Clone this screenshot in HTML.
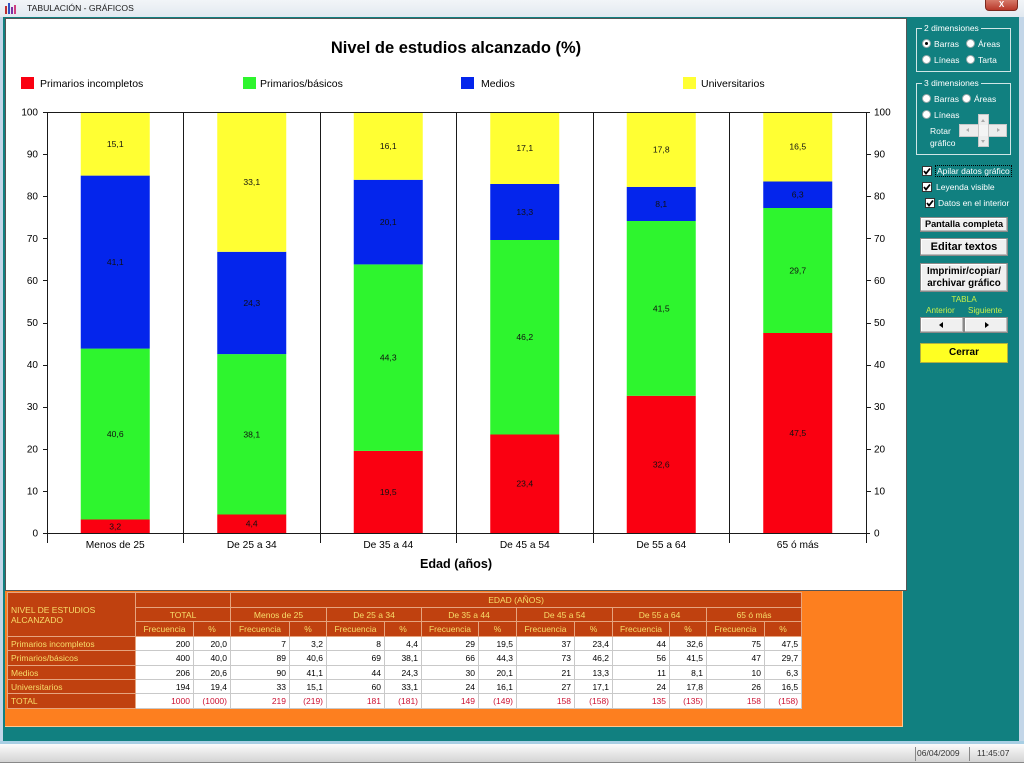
<!DOCTYPE html>
<html><head><meta charset="utf-8">
<style>
*{margin:0;padding:0;box-sizing:border-box}
body{width:1024px;height:768px;position:relative;overflow:hidden;background:#fff;font-family:"Liberation Sans",Arial,sans-serif}
.a{position:absolute}
.w{color:#fff;font-size:8.5px;line-height:10px;white-space:nowrap}
.rb{position:absolute;width:9px;height:9px;border-radius:50%;background:#fff;border:1px solid #9aa}
.rb.on::after{content:"";position:absolute;left:2px;top:2px;width:3px;height:3px;border-radius:50%;background:#000}
.cb{position:absolute;width:10px;height:10px;background:#fff;border:1px solid #333}
.btn{position:absolute;background:#f0f0f0;border:1px solid #8a8a8a;box-shadow:inset -1px -1px 0 #bbb,inset 1px 1px 0 #fff;color:#000;font-weight:bold;text-align:center;white-space:nowrap}
.grp{position:absolute;border:1px solid #cfe6e6}
.gl{position:absolute;background:#118080;padding:0 2px}
.tb{position:absolute;border-collapse:collapse;table-layout:fixed;font-size:8.5px;border:1px solid #7a5a4a}
.tb td{border:1px solid #c9c9c9;padding:0 3px;white-space:nowrap;overflow:hidden;line-height:10px;text-align:right;background:#fff;color:#000}
.tb td.h{background:#c0410f;color:#f8de6a;text-align:center;border-color:#e6a47e}
.tb td.l{background:#c0410f;color:#f8de6a;text-align:left;border-color:#e6a47e}
.tb td.r{color:#cc1133}
</style></head><body>

<!-- window frame -->
<div class="a" style="left:0;top:0;width:1024px;height:744px;background:#c3d6e8"></div>
<div class="a" style="left:0;top:0;width:1024px;height:17px;background:linear-gradient(#f2f5f8,#e2e9f0)"></div>
<div class="a" style="left:5px;top:3px;width:12px;height:11px">
  <div class="a" style="left:0;top:3px;width:2px;height:8px;background:#c03030"></div>
  <div class="a" style="left:3px;top:0;width:2px;height:11px;background:#3050c0"></div>
  <div class="a" style="left:6px;top:4px;width:2px;height:7px;background:#8030a0"></div>
  <div class="a" style="left:9px;top:2px;width:2px;height:9px;background:#d04080"></div>
</div>
<div class="a" style="left:27px;top:3px;font-size:8.6px;color:#1a1a1a;white-space:nowrap">TABULACIÓN - GRÁFICOS</div>
<div class="a" style="left:985px;top:0;width:33px;height:11px;background:linear-gradient(#d67a6a,#b8382a);border:1px solid #7a2a20;border-top:none;border-radius:0 0 4px 4px;color:#fff;font-size:8px;font-weight:bold;text-align:center;line-height:10px">X</div>

<!-- teal client -->
<div class="a" style="left:3px;top:17px;width:1016px;height:724px;background:#118080"></div>
<div class="a" style="left:0;top:741px;width:1024px;height:3px;background:#a8cfe4"></div>

<!-- chart white panel -->
<div class="a" style="left:5px;top:18px;width:902px;height:573px;background:#fff;border:1px solid #555"></div>
<!-- orange panel -->
<div class="a" style="left:5px;top:591px;width:898px;height:136px;background:#fd7f1f;border-right:1px solid #ffc890;border-bottom:1px solid #ffc890"></div>

<!-- status bar -->
<div class="a" style="left:0;top:744px;width:1024px;height:19px;background:linear-gradient(#fbfbfb,#d4d4d4);border-bottom:1px solid #888"></div>
<div class="a" style="left:915px;top:747px;width:1px;height:14px;background:#888"></div>
<div class="a" style="left:969px;top:747px;width:1px;height:14px;background:#888"></div>
<div class="a" style="left:917px;top:748px;font-size:8.5px;color:#333">06/04/2009</div>
<div class="a" style="left:977px;top:748px;font-size:8.5px;color:#333">11:45:07</div>

<!-- chart -->
<svg class="a" style="left:0;top:0" width="1024" height="768" xmlns="http://www.w3.org/2000/svg" font-family="Liberation Sans, Arial, sans-serif">
  <text x="456" y="53" font-size="16.5" font-weight="bold" text-anchor="middle" fill="#000">Nivel de estudios alcanzado (%)</text>
  <rect x="21" y="77" width="13" height="12" fill="#fa0011"/>
  <text x="40" y="87" font-size="10.5" fill="#000">Primarios incompletos</text>
  <rect x="243" y="77" width="13" height="12" fill="#2ef52e"/>
  <text x="260" y="87" font-size="10.5" fill="#000">Primarios/básicos</text>
  <rect x="461" y="77" width="13" height="12" fill="#0425ec"/>
  <text x="481" y="87" font-size="10.5" fill="#000">Medios</text>
  <rect x="683" y="77" width="13" height="12" fill="#ffff33"/>
  <text x="701" y="87" font-size="10.5" fill="#000">Universitarios</text>

  <!-- bars -->
  <g>
    <rect x="80.75" y="519.5" width="69" height="13.5" fill="#fa0011"/>
    <rect x="80.75" y="348.6" width="69" height="170.9" fill="#2ef52e"/>
    <rect x="80.75" y="175.6" width="69" height="173" fill="#0425ec"/>
    <rect x="80.75" y="112" width="69" height="63.6" fill="#ffff33"/>

    <rect x="217.25" y="514.5" width="69" height="18.5" fill="#fa0011"/>
    <rect x="217.25" y="354.1" width="69" height="160.4" fill="#2ef52e"/>
    <rect x="217.25" y="251.8" width="69" height="102.3" fill="#0425ec"/>
    <rect x="217.25" y="112" width="69" height="139.8" fill="#ffff33"/>

    <rect x="353.75" y="450.9" width="69" height="82.1" fill="#fa0011"/>
    <rect x="353.75" y="264.4" width="69" height="186.5" fill="#2ef52e"/>
    <rect x="353.75" y="179.8" width="69" height="84.6" fill="#0425ec"/>
    <rect x="353.75" y="112" width="69" height="67.8" fill="#ffff33"/>

    <rect x="490.25" y="434.5" width="69" height="98.5" fill="#fa0011"/>
    <rect x="490.25" y="240" width="69" height="194.5" fill="#2ef52e"/>
    <rect x="490.25" y="184" width="69" height="56" fill="#0425ec"/>
    <rect x="490.25" y="112" width="69" height="72" fill="#ffff33"/>

    <rect x="626.75" y="395.8" width="69" height="137.2" fill="#fa0011"/>
    <rect x="626.75" y="221" width="69" height="174.8" fill="#2ef52e"/>
    <rect x="626.75" y="186.9" width="69" height="34.1" fill="#0425ec"/>
    <rect x="626.75" y="112" width="69" height="74.9" fill="#ffff33"/>

    <rect x="763.25" y="333" width="69" height="200" fill="#fa0011"/>
    <rect x="763.25" y="208" width="69" height="125" fill="#2ef52e"/>
    <rect x="763.25" y="181.5" width="69" height="26.5" fill="#0425ec"/>
    <rect x="763.25" y="112" width="69" height="69.5" fill="#ffff33"/>
  </g>

  <!-- bar labels -->
  <g font-size="8.6" fill="#111" text-anchor="middle">
    <text x="115.25" y="529.3">3,2</text>
    <text x="115.25" y="437.1">40,6</text>
    <text x="115.25" y="265.1">41,1</text>
    <text x="115.25" y="146.8">15,1</text>

    <text x="251.75" y="526.7">4,4</text>
    <text x="251.75" y="437.3">38,1</text>
    <text x="251.75" y="305.9">24,3</text>
    <text x="251.75" y="184.9">33,1</text>

    <text x="388.25" y="495">19,5</text>
    <text x="388.25" y="360.6">44,3</text>
    <text x="388.25" y="225.1">20,1</text>
    <text x="388.25" y="148.9">16,1</text>

    <text x="524.75" y="486.7">23,4</text>
    <text x="524.75" y="340.2">46,2</text>
    <text x="524.75" y="215">13,3</text>
    <text x="524.75" y="151">17,1</text>

    <text x="661.25" y="467.4">32,6</text>
    <text x="661.25" y="311.4">41,5</text>
    <text x="661.25" y="207">8,1</text>
    <text x="661.25" y="152.5">17,8</text>

    <text x="797.75" y="436">47,5</text>
    <text x="797.75" y="273.5">29,7</text>
    <text x="797.75" y="197.7">6,3</text>
    <text x="797.75" y="149.7">16,5</text>
  </g>

  <!-- axes & grid -->
  <g stroke="#1a1a1a" stroke-width="1" fill="none" shape-rendering="crispEdges">
    <line x1="43" y1="112.5" x2="870" y2="112.5"/>
    <line x1="43" y1="533.5" x2="870" y2="533.5"/>
    <line x1="47.5" y1="112" x2="47.5" y2="543"/>
    <line x1="183.5" y1="112" x2="183.5" y2="543"/>
    <line x1="320.5" y1="112" x2="320.5" y2="543"/>
    <line x1="456.5" y1="112" x2="456.5" y2="543"/>
    <line x1="593.5" y1="112" x2="593.5" y2="543"/>
    <line x1="729.5" y1="112" x2="729.5" y2="543"/>
    <line x1="866.5" y1="112" x2="866.5" y2="543"/>
    <path d="M43 491.5H47M43 449.5H47M43 407.5H47M43 365.5H47M43 323.5H47M43 280.5H47M43 238.5H47M43 196.5H47M43 154.5H47"/>
    <path d="M866 491.5H871M866 449.5H871M866 407.5H871M866 365.5H871M866 323.5H871M866 280.5H871M866 238.5H871M866 196.5H871M866 154.5H871"/>
  </g>
  <g font-size="10" fill="#000" text-anchor="end">
    <text x="38" y="536.5">0</text>
    <text x="38" y="494.4">10</text>
    <text x="38" y="452.3">20</text>
    <text x="38" y="410.2">30</text>
    <text x="38" y="368.1">40</text>
    <text x="38" y="326">50</text>
    <text x="38" y="283.9">60</text>
    <text x="38" y="241.8">70</text>
    <text x="38" y="199.7">80</text>
    <text x="38" y="157.6">90</text>
    <text x="38" y="115.5">100</text>
  </g>
  <g font-size="10" fill="#000">
    <text x="874" y="536.5">0</text>
    <text x="874" y="494.4">10</text>
    <text x="874" y="452.3">20</text>
    <text x="874" y="410.2">30</text>
    <text x="874" y="368.1">40</text>
    <text x="874" y="326">50</text>
    <text x="874" y="283.9">60</text>
    <text x="874" y="241.8">70</text>
    <text x="874" y="199.7">80</text>
    <text x="874" y="157.6">90</text>
    <text x="874" y="115.5">100</text>
  </g>
  <g font-size="10.2" fill="#000" text-anchor="middle">
    <text x="115.25" y="548">Menos de 25</text>
    <text x="251.75" y="548">De 25 a 34</text>
    <text x="388.25" y="548">De 35 a 44</text>
    <text x="524.75" y="548">De 45 a 54</text>
    <text x="661.25" y="548">De 55 a 64</text>
    <text x="797.75" y="548">65 ó más</text>
  </g>
  <text x="456" y="568" font-size="12.6" font-weight="bold" text-anchor="middle" fill="#000">Edad (años)</text>
</svg>

<!-- table -->
<table class="tb" style="left:7px;top:592px;width:794px">
<colgroup>
<col style="width:128px"><col style="width:58px"><col style="width:37px"><col style="width:59px"><col style="width:37px"><col style="width:58px"><col style="width:37px"><col style="width:57px"><col style="width:38px"><col style="width:58px"><col style="width:38px"><col style="width:57px"><col style="width:37px"><col style="width:58px"><col style="width:37px">
</colgroup>
<tr style="height:15px"><td class="l" rowspan="3" style="vertical-align:middle">NIVEL DE ESTUDIOS<br>ALCANZADO</td><td class="h" colspan="2"></td><td class="h" colspan="12">EDAD (AÑOS)</td></tr>
<tr style="height:14px"><td class="h" colspan="2">TOTAL</td><td class="h" colspan="2">Menos de 25</td><td class="h" colspan="2">De 25 a 34</td><td class="h" colspan="2">De 35 a 44</td><td class="h" colspan="2">De 45 a 54</td><td class="h" colspan="2">De 55 a 64</td><td class="h" colspan="2">65 ó más</td></tr>
<tr style="height:15px"><td class="h">Frecuencia</td><td class="h">%</td><td class="h">Frecuencia</td><td class="h">%</td><td class="h">Frecuencia</td><td class="h">%</td><td class="h">Frecuencia</td><td class="h">%</td><td class="h">Frecuencia</td><td class="h">%</td><td class="h">Frecuencia</td><td class="h">%</td><td class="h">Frecuencia</td><td class="h">%</td></tr>
<tr style="height:14px"><td class="l">Primarios incompletos</td><td>200</td><td>20,0</td><td>7</td><td>3,2</td><td>8</td><td>4,4</td><td>29</td><td>19,5</td><td>37</td><td>23,4</td><td>44</td><td>32,6</td><td>75</td><td>47,5</td></tr>
<tr style="height:15px"><td class="l">Primarios/básicos</td><td>400</td><td>40,0</td><td>89</td><td>40,6</td><td>69</td><td>38,1</td><td>66</td><td>44,3</td><td>73</td><td>46,2</td><td>56</td><td>41,5</td><td>47</td><td>29,7</td></tr>
<tr style="height:14px"><td class="l">Medios</td><td>206</td><td>20,6</td><td>90</td><td>41,1</td><td>44</td><td>24,3</td><td>30</td><td>20,1</td><td>21</td><td>13,3</td><td>11</td><td>8,1</td><td>10</td><td>6,3</td></tr>
<tr style="height:14px"><td class="l">Universitarios</td><td>194</td><td>19,4</td><td>33</td><td>15,1</td><td>60</td><td>33,1</td><td>24</td><td>16,1</td><td>27</td><td>17,1</td><td>24</td><td>17,8</td><td>26</td><td>16,5</td></tr>
<tr style="height:15px"><td class="l">TOTAL</td><td class="r">1000</td><td class="r">(1000)</td><td class="r">219</td><td class="r">(219)</td><td class="r">181</td><td class="r">(181)</td><td class="r">149</td><td class="r">(149)</td><td class="r">158</td><td class="r">(158)</td><td class="r">135</td><td class="r">(135)</td><td class="r">158</td><td class="r">(158)</td></tr>
</table>

<!-- right panel -->
<div class="grp" style="left:916px;top:28px;width:95px;height:44px"></div>
<div class="gl w" style="left:922px;top:23px">2 dimensiones</div>
<div class="rb on" style="left:922px;top:39px"></div><div class="a w" style="left:934px;top:39px">Barras</div>
<div class="rb" style="left:966px;top:39px"></div><div class="a w" style="left:978px;top:39px">Áreas</div>
<div class="rb" style="left:922px;top:55px"></div><div class="a w" style="left:934px;top:55px">Líneas</div>
<div class="rb" style="left:966px;top:55px"></div><div class="a w" style="left:978px;top:55px">Tarta</div>

<div class="grp" style="left:916px;top:83px;width:95px;height:72px"></div>
<div class="gl w" style="left:922px;top:78px">3 dimensiones</div>
<div class="rb" style="left:922px;top:94px"></div><div class="a w" style="left:934px;top:94px">Barras</div>
<div class="rb" style="left:962px;top:94px"></div><div class="a w" style="left:974px;top:94px">Áreas</div>
<div class="rb" style="left:922px;top:110px"></div><div class="a w" style="left:934px;top:110px">Líneas</div>
<div class="a w" style="left:930px;top:126px">Rotar</div>
<div class="a w" style="left:930px;top:138px">gráfico</div>
<div class="a" style="left:959px;top:124px;width:48px;height:13px;background:#ececec;border:1px solid #c8c8c8"></div>
<div class="a" style="left:978px;top:114px;width:11px;height:33px;background:#ececec;border:1px solid #c8c8c8"></div>
<div class="a" style="left:979px;top:125px;width:9px;height:11px;background:#f4f4f4"></div>
<div class="a" style="left:981px;top:119px;width:0;height:0;border-left:2.5px solid transparent;border-right:2.5px solid transparent;border-bottom:3px solid #aaa"></div>
<div class="a" style="left:981px;top:140px;width:0;height:0;border-left:2.5px solid transparent;border-right:2.5px solid transparent;border-top:3px solid #aaa"></div>
<div class="a" style="left:966px;top:128px;width:0;height:0;border-top:2.5px solid transparent;border-bottom:2.5px solid transparent;border-right:3px solid #aaa"></div>
<div class="a" style="left:997px;top:128px;width:0;height:0;border-top:2.5px solid transparent;border-bottom:2.5px solid transparent;border-left:3px solid #aaa"></div>

<div class="cb" style="left:922px;top:166px"><svg width="8" height="8" style="position:absolute;left:0;top:0"><polyline points="1,4 3,6.5 7,1.5" fill="none" stroke="#000" stroke-width="1.8"/></svg></div>
<div class="a w" style="left:935px;top:165px;border:1px dotted #000;padding:0 1px">Apilar datos gráfico</div>
<div class="cb" style="left:922px;top:182px"><svg width="8" height="8" style="position:absolute;left:0;top:0"><polyline points="1,4 3,6.5 7,1.5" fill="none" stroke="#000" stroke-width="1.8"/></svg></div>
<div class="a w" style="left:936px;top:182px">Leyenda visible</div>
<div class="cb" style="left:925px;top:198px"><svg width="8" height="8" style="position:absolute;left:0;top:0"><polyline points="1,4 3,6.5 7,1.5" fill="none" stroke="#000" stroke-width="1.8"/></svg></div>
<div class="a w" style="left:938px;top:198px">Datos en el interior</div>

<div class="btn" style="left:920px;top:217px;width:88px;height:15px;font-size:9.2px;line-height:13px">Pantalla completa</div>
<div class="btn" style="left:920px;top:238px;width:88px;height:18px;font-size:11px;line-height:16px">Editar textos</div>
<div class="btn" style="left:920px;top:263px;width:88px;height:29px;font-size:9.8px;line-height:11.5px;padding-top:2px">Imprimir/copiar/<br>archivar gráfico</div>
<div class="a" style="left:920px;top:295px;width:88px;text-align:center;font-size:8.2px;color:#c8f04a;line-height:10px">TABLA</div>
<div class="a" style="left:926px;top:306px;font-size:8.2px;color:#c8f04a;white-space:nowrap">Anterior</div>
<div class="a" style="left:968px;top:306px;font-size:8.2px;color:#c8f04a;white-space:nowrap">Siguiente</div>
<div class="btn" style="left:920px;top:317px;width:44px;height:16px"><div class="a" style="left:18px;top:4px;width:0;height:0;border-top:3.5px solid transparent;border-bottom:3.5px solid transparent;border-right:4px solid #000"></div></div>
<div class="btn" style="left:964px;top:317px;width:44px;height:16px"><div class="a" style="left:20px;top:4px;width:0;height:0;border-top:3.5px solid transparent;border-bottom:3.5px solid transparent;border-left:4px solid #000"></div></div>
<div class="btn" style="left:920px;top:343px;width:88px;height:20px;background:#ffff22;font-size:10px;line-height:18px;box-shadow:none;border-color:#b0b040">Cerrar</div>

</body></html>
